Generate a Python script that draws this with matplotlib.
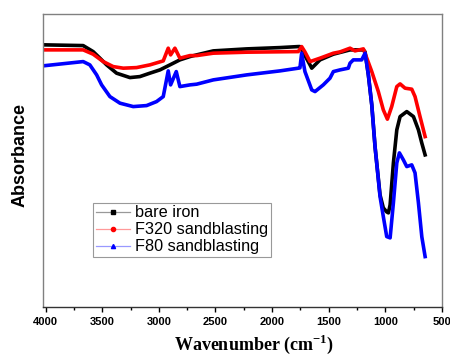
import matplotlib
matplotlib.use("Agg")
import matplotlib.pyplot as plt
from matplotlib.lines import Line2D
from matplotlib.ticker import MultipleLocator

plt.rcParams["mathtext.fontset"] = "custom"
plt.rcParams["mathtext.rm"] = "Liberation Serif"
plt.rcParams["mathtext.bf"] = "Liberation Serif:bold"

# Wavenumber (cm^-1) and absorbance (arbitrary units)
bare_w = [4000, 3668, 3580, 3520, 3461, 3373, 3255, 3167, 3079, 2990, 2902, 2814, 2725, 2666,
          2519, 2224, 1930, 1769, 1754, 1665, 1650, 1577, 1459, 1312, 1194, 1179, 1150, 1120,
          1091, 1047, 1018, 988, 973, 958, 929, 899, 870, 811, 752, 708, 678, 649]
bare_a = [2.62, 2.613, 2.553, 2.487, 2.42, 2.337, 2.293, 2.303, 2.337, 2.37, 2.42, 2.47, 2.503, 2.52,
          2.56, 2.58, 2.593, 2.603, 2.603, 2.42, 2.387, 2.47, 2.527, 2.57, 2.57, 2.55, 2.32, 2.02,
          1.60, 1.12, 0.99, 0.95, 0.94, 1.02, 1.44, 1.77, 1.903, 1.953, 1.903, 1.77, 1.637, 1.52]

f320_w = [4000, 3668, 3580, 3491, 3403, 3314, 3196, 3079, 2961, 2917, 2896, 2858, 2814, 2725,
          2666, 2519, 2224, 1769, 1739, 1710, 1665, 1577, 1459, 1400, 1312, 1268, 1194, 1120,
          1062, 1018, 982, 944, 899, 870, 826, 767, 738, 694, 649]
f320_a = [2.57, 2.57, 2.527, 2.453, 2.403, 2.387, 2.393, 2.42, 2.46, 2.587, 2.52, 2.587, 2.487, 2.513,
          2.513, 2.537, 2.547, 2.553, 2.603, 2.55, 2.453, 2.487, 2.537, 2.55, 2.587, 2.56, 2.58, 2.353,
          2.153, 1.97, 1.877, 2.003, 2.203, 2.23, 2.187, 2.177, 2.103, 1.903, 1.703]

f80_w = [4000, 3668, 3609, 3549, 3505, 3432, 3343, 3226, 3108, 3020, 2961, 2917, 2896, 2846,
         2814, 2725, 2666, 2519, 2224, 1930, 1769, 1754, 1739, 1710, 1650, 1621, 1548, 1489,
         1459, 1400, 1327, 1312, 1283, 1209, 1179, 1150, 1120, 1091, 1047, 1018, 988, 958,
         929, 899, 876, 841, 811, 767, 738, 708, 678, 649]
f80_a = [2.413, 2.453, 2.42, 2.32, 2.22, 2.103, 2.037, 2.003, 2.013, 2.053, 2.103, 2.36, 2.22, 2.353,
         2.203, 2.22, 2.227, 2.27, 2.32, 2.36, 2.387, 2.39, 2.537, 2.353, 2.17, 2.153, 2.22, 2.287,
         2.353, 2.37, 2.387, 2.437, 2.47, 2.47, 2.537, 2.32, 2.02, 1.603, 1.103, 0.903, 0.703, 0.69,
         1.04, 1.44, 1.54, 1.47, 1.403, 1.42, 1.34, 1.04, 0.70, 0.503]

labels = ["bare iron", "F320 sandblasting", "F80 sandblasting"]
xticks = [4000, 3500, 3000, 2500, 2000, 1500, 1000, 500]

fig = plt.figure(figsize=(4.5, 3.56), dpi=100)
ax = fig.add_axes([0.0962, 0.138, 0.886, 0.823])

ax.plot(bare_w, bare_a, color="black", lw=2.6, solid_joinstyle="round")
ax.plot(f320_w, f320_a, color="#ff0000", lw=2.6, solid_joinstyle="round")
ax.plot(f80_w, f80_a, color="#0000ff", lw=2.6, solid_joinstyle="round")

ax.set_xlim(4020, 500)
ax.set_ylim(0, 2.93)
ax.set_yticks([])
ax.set_xticks(xticks)
ax.xaxis.set_minor_locator(MultipleLocator(250))
ax.tick_params(axis="x", which="major", direction="out", length=3.5, width=1, pad=4)
ax.tick_params(axis="x", which="minor", direction="out", length=2, width=1)
for lab in ax.get_xticklabels():
    lab.set_fontfamily("Liberation Sans")
    lab.set_fontweight("bold")
    lab.set_fontsize(8)

for s in ["top", "right", "left"]:
    ax.spines[s].set_color("#808080")
    ax.spines[s].set_linewidth(1.0)
ax.spines["bottom"].set_color("#333333")
ax.spines["bottom"].set_linewidth(1.0)

ax.set_xlabel("Wavenumber (cm$^{\\mathbf{-1}}$)", fontfamily="Liberation Serif",
              fontweight="bold", fontsize=13)
ax.xaxis.set_label_coords(0.528, -0.09)
ax.set_ylabel("Absorbance", fontfamily="Liberation Sans", fontweight="bold",
              fontsize=13)
ax.yaxis.set_label_coords(-0.038, 0.52)

handles = [
    Line2D([], [], color=(0, 0, 0, 0.4), lw=0.9, marker="s", markersize=3,
           markerfacecolor="black", markeredgecolor="black"),
    Line2D([], [], color=(1, 0, 0, 0.4), lw=0.9, marker="o", markersize=3,
           markerfacecolor="red", markeredgecolor="red"),
    Line2D([], [], color=(0, 0, 1, 0.4), lw=0.9, marker="^", markersize=3,
           markerfacecolor="blue", markeredgecolor="blue"),
]
leg = ax.legend(handles, labels, loc="upper left", bbox_to_anchor=(0.125, 0.355),
                borderaxespad=0, fancybox=False, edgecolor="#999999", framealpha=1,
                prop={"family": "Liberation Sans", "size": 11.7}, handlelength=2.1,
                handletextpad=0.35, labelspacing=0.12, borderpad=0.15)
leg.get_frame().set_linewidth(0.8)

fig.savefig("out.png", dpi=100)
